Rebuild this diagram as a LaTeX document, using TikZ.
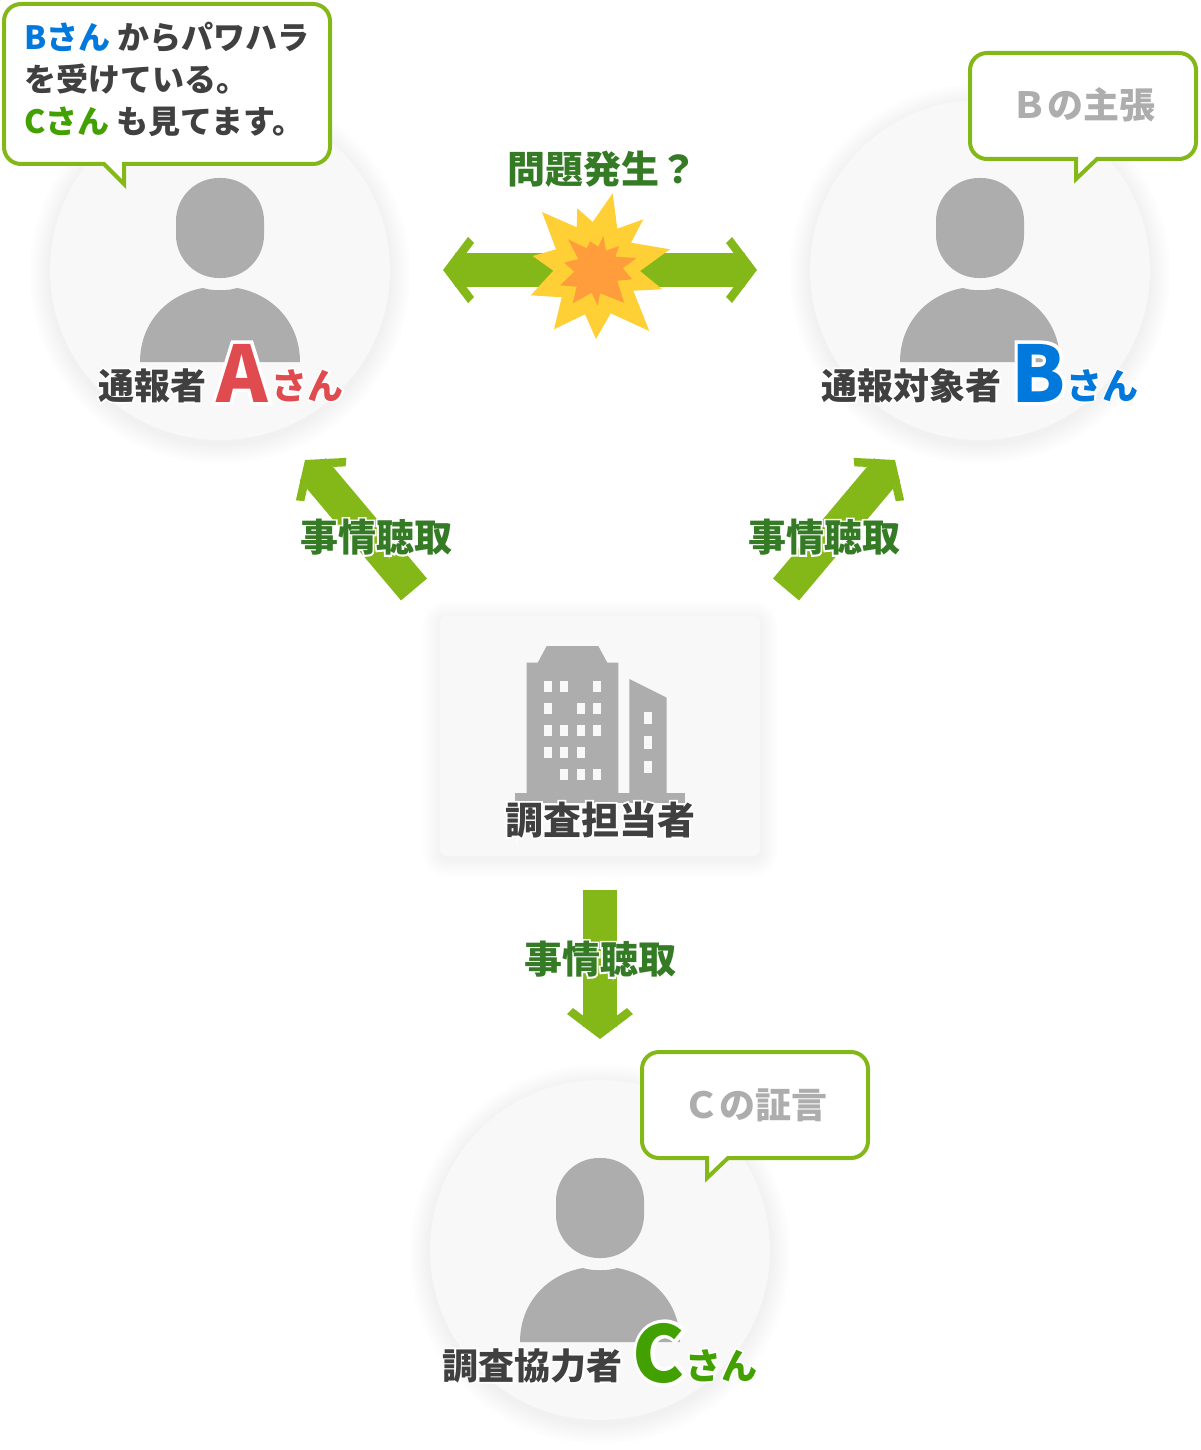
\documentclass[tikz,border=0pt]{standalone}
\usepackage{fontspec}
\setmainfont{Noto Sans CJK JP}
\usepackage{xcolor}
\usetikzlibrary{arrows.meta, positioning}
\definecolor{ink}{HTML}{404040}
\definecolor{paleface}{HTML}{F8F8F8}
\definecolor{figgrey}{HTML}{ADADAD}
\definecolor{leaf}{HTML}{84B819}
\definecolor{deepleaf}{HTML}{357A24}
\definecolor{nameA}{HTML}{E04B4F}
\definecolor{nameB}{HTML}{0078DC}
\definecolor{nameC}{HTML}{42A000}
\definecolor{flashout}{HTML}{FFCF36}
\definecolor{flashin}{HTML}{FF9C3C}
% open arrow head for the thick green arrows
\pgfdeclarearrow{
  name=FatBarb,
  setup code={\pgfarrowssettipend{0pt}\pgfarrowssetlineend{-12pt}\pgfarrowssetbackend{-31pt}},
  drawing code={
    \pgfpathmoveto{\pgfpoint{0pt}{0pt}}
    \pgfpathlineto{\pgfpoint{-25pt}{33pt}}
    \pgfpathlineto{\pgfpoint{-31pt}{27pt}}
    \pgfpathlineto{\pgfpoint{-23.4pt}{17pt}}
    \pgfpathlineto{\pgfpoint{-19pt}{17pt}}
    \pgfpathlineto{\pgfpoint{-19pt}{-17pt}}
    \pgfpathlineto{\pgfpoint{-23.4pt}{-17pt}}
    \pgfpathlineto{\pgfpoint{-31pt}{-27pt}}
    \pgfpathlineto{\pgfpoint{-25pt}{-33pt}}
    \pgfpathclose
    \pgfusepathqfill}}
% white rim round a text
\newcommand{\halo}[1]{\rlap{\addfontfeature{FakeBold=9}\color{white}#1}#1}
\newcommand{\fsize}[1]{\fontsize{#1}{#1}\selectfont\bfseries}
\newcommand{\bigname}[1]{\raisebox{-3pt}{\fsize{78}\halo{#1}}}
% soft shadow under a disc or a card
\newcommand{\softdisc}[2]{\foreach \g in {1,...,14} \fill[black, opacity=0.005] (#1,#2+4) circle ({170+1.5*\g*1pt});}
\newcommand{\softcard}[4]{\foreach \g in {1,...,12} \fill[black, opacity=0.005, rounded corners={(7+1.5*\g)*1pt}] (#1-1.5*\g,#2+3-1.5*\g) rectangle (#3+1.5*\g,#4+3+1.5*\g);}
\newcommand{\personfig}[2]{
  \begin{scope}[shift={(#1,#2)}, figgrey]
    \fill[rounded corners=43pt] (-44,-92) rectangle (44,8);
    \fill (-80,92) .. controls (-80,52) and (-52,24) .. (-17,18) .. controls (-8,21) and (8,21) .. (17,18)
      .. controls (52,24) and (80,52) .. (80,92) -- cycle;
  \end{scope}}
% args: x1,y1,x2,y2, then tail left, tail tip, tail right
\newcommand{\speechbox}[7]{
  \draw[bubble, rounded corners=17pt] (#1+40,#2) -- (#3,#2) -- (#3,#4) [sharp corners] -- (#7,#4) -- (#6,#4+20) -- (#5,#4)
    [rounded corners=17pt] -- (#1,#4) -- (#1,#2) -- cycle;}
\begin{document}
\begin{tikzpicture}[x=1pt, y=-1pt,
  disc/.style={circle, fill=paleface, minimum size=340pt, inner sep=0pt},
  card/.style={rectangle, rounded corners=7pt, fill=paleface, minimum width=320pt, minimum height=240pt, inner sep=0pt},
  bubble/.style={draw=leaf, line width=4pt, fill=white, line join=miter},
  fatarr/.style={line width=34pt, color=leaf, FatBarb-FatBarb},
  oneway/.style={line width=34pt, color=leaf, -FatBarb},
  lbl/.style={font=\fsize{38}, text=deepleaf, inner sep=0pt},
  who/.style={font=\fsize{36}, text=ink, inner sep=0pt, anchor=base},
  said/.style={font=\fsize{36}, text=figgrey, inner sep=0pt}]

  \useasboundingbox (0,0) rectangle (1200,1450);

  \softdisc{220}{270}
  \softdisc{980}{270}
  \softdisc{600}{1250}
  \softcard{440}{616}{760}{856}

  \node[disc] (reporter) at (220,270) {};
  \node[disc] (accused) at (980,270) {};
  \node[disc] (witness) at (600,1250) {};
  \node[card] (office) at (600,736) {};

  \personfig{220}{270}
  \personfig{980}{270}
  \personfig{600}{1250}

  % building
  \begin{scope}[figgrey]
    \fill (526.7,793) -- (526.7,662.7) -- (537.7,662.7) -- (546.7,646) -- (598.3,646) -- (607.3,662.7) -- (618.3,662.7) -- (618.3,793) -- cycle;
    \fill (629.3,793) -- (629.3,679) -- (666.7,697.7) -- (666.7,793) -- cycle;
    \fill (515,793) rectangle (685,803);
  \end{scope}
  \foreach \wx/\wy in {544/681.3, 560.3/681.3, 593/681.3, 544/703.3, 576.7/703.3, 593/703.3,
      544/725, 560.3/725, 576.7/725, 593/725, 544/747, 560.3/747, 576.7/747,
      560.3/769, 576.7/769, 593/769}
    \fill[paleface] (\wx,\wy) rectangle ++(8,11);
  \foreach \wy in {711.7, 736.3, 761}
    \fill[paleface] (644,\wy) rectangle ++(8,12.3);

  % problem arrow and flash
  \coordinate (leftend) at (443,270);
  \coordinate (rightend) at (757,270);
  \draw[fatarr] (leftend) -- (rightend);
  \fill[flashout] (612.7,193.3) -- (617.3,228.7) -- (643.3,219.3) -- (631,242.7) -- (670,249.3) -- (640,271)
    -- (662.3,289.3) -- (633.3,290.7) -- (649.3,331) -- (610.7,313.3) -- (596,339) -- (585,314.3) -- (554,329.3)
    -- (561.7,297.3) -- (530.7,295.3) -- (553.3,270.7) -- (532.7,256) -- (556,249.3) -- (542,212) -- (576.7,227.3)
    -- (577.3,208.3) -- (592.7,222) -- cycle;
  \fill[flashin] (603.3,236) -- (606,250.7) -- (619,246) -- (615.3,256.7) -- (636.7,258) -- (622.7,268.3)
    -- (632.3,279.3) -- (617.3,280.7) -- (624,302.7) -- (600,293.3) -- (597.7,305.7) -- (591.7,292.7) -- (572.7,303.3)
    -- (576.7,286.7) -- (560,285.3) -- (574.3,271.7) -- (564.3,262.7) -- (578.3,259) -- (568,239.3) -- (586.7,248.3)
    -- (590,241.3) -- (598.3,246.7) -- cycle;
  \node[lbl] (problem) at (602,169) {問題発生？};

  % hearing arrows
  \coordinate (fromA) at (414,589.5);
  \coordinate (tipA) at (305,460);
  \coordinate (fromB) at (786,589.5);
  \coordinate (tipB) at (895,460);
  \coordinate (fromC) at (600,890);
  \coordinate (tipC) at (600,1039);
  \draw[oneway] (fromA) -- (tipA);
  \draw[oneway] (fromB) -- (tipB);
  \draw[oneway] (fromC) -- (tipC);
  \node[lbl] (hearA) at (376,537) {\halo{事情聴取}};
  \node[lbl] (hearB) at (824,537) {\halo{事情聴取}};
  \node[lbl] (hearC) at (600,959) {\halo{事情聴取}};

  % speech bubbles
  \speechbox{4}{4}{330}{164}{104}{124}{124}
  \speechbox{970}{53}{1196}{159}{1076}{1076}{1097}
  \speechbox{642}{1052}{868}{1158}{707}{707}{728}
  \node[inner sep=0pt, anchor=base west, align=left, text=ink, font=\fontsize{32}{42}\selectfont\bfseries] (sayA) at (24,134) {%
    {\color{nameB}Bさん} からパワハラ\\
    を受けている。\\
    {\color{nameC}Cさん} も見てます。};
  \node[said] (sayB) at (1083,105) {Ｂの主張};
  \node[said] (sayC) at (755,1105) {Ｃの証言};

  % names
  \node[who] (nameA) at (221,399) {\halo{通報者}\hspace{10pt}{\color{nameA}\bigname{A}\hspace{4pt}\halo{さん}}};
  \node[who] (nameB) at (980,399) {\halo{通報対象者}\hspace{10pt}{\color{nameB}\bigname{B}\hspace{1pt}\halo{さん}}};
  \node[who] (nameC) at (600,1379) {\halo{調査協力者}\hspace{10pt}{\color{nameC}\bigname{C}\hspace{0pt}\halo{さん}}};
  \node[who, font=\fsize{38}] (staff) at (600,834) {\halo{調査担当者}};
\end{tikzpicture}
\end{document}
